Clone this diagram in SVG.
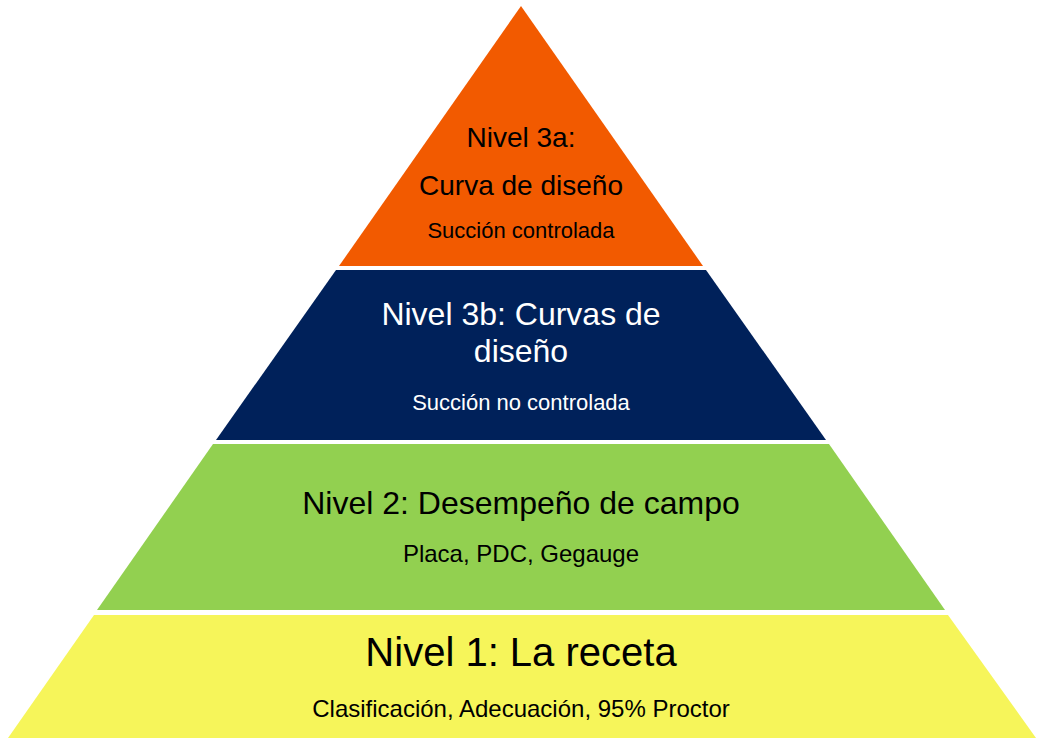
<svg xmlns="http://www.w3.org/2000/svg" width="1042" height="744" viewBox="0 0 1042 744">
<style>
text{font-family:"Liberation Sans",Arial,sans-serif;text-anchor:middle}
.d{fill:#000}.w{fill:#fff}
</style>
<rect width="1042" height="744" fill="#fff"/>
<g id="nivel3a"><polygon points="521,6 703,266 339,266" fill="#f25a00"/>
<text class="d" x="521" y="147" font-size="28">Nivel 3a:</text>
<text class="d" x="521" y="195" font-size="28">Curva de diseño</text>
<text class="d" x="521" y="238" font-size="22">Succión controlada</text></g>
<g id="nivel3b"><polygon points="336,270 706,270 826,440 216,440" fill="#00215a"/>
<text class="w" x="521" y="325" font-size="32">Nivel 3b: Curvas de</text>
<text class="w" x="521" y="362" font-size="32">diseño</text>
<text class="w" x="521" y="410" font-size="22">Succión no controlada</text></g>
<g id="nivel2"><polygon points="213,444 829,444 945,610 97,610" fill="#92d050"/>
<text class="d" x="521" y="514" font-size="32">Nivel 2: Desempeño de campo</text>
<text class="d" x="521" y="562" font-size="24">Placa, PDC, Gegauge</text></g>
<g id="nivel1"><polygon points="94,615 948,615 1036,738 8,738" fill="#f6f55a"/>
<text class="d" x="521" y="666" font-size="40">Nivel 1: La receta</text>
<text class="d" x="521" y="717" font-size="24">Clasificación, Adecuación, 95% Proctor</text></g>
<g id="connectors"/>
</svg>
